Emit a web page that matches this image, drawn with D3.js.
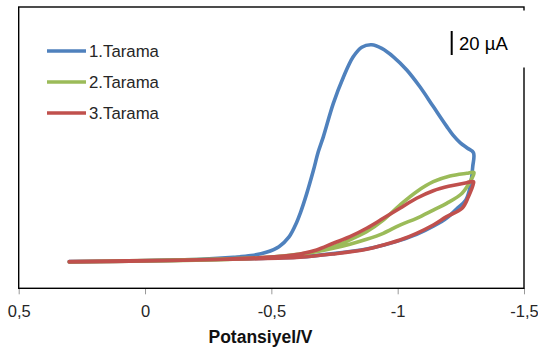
<!DOCTYPE html>
<html>
<head>
<meta charset="utf-8">
<script src="https://cdn.jsdelivr.net/npm/d3@7"></script>
<style>
  body { margin: 0; background: #fff; }
  svg { display: block; font-family: "Liberation Sans", Arial, sans-serif; }
</style>
</head>
<body>
<div id="chart"></div>
<script>
// cyclic voltammograms, potential in V, current in uA (forward sweep then return)
const scan1Potential = [0.30, 0.10, -0.10, -0.22, -0.35, -0.42, -0.48, -0.53, -0.57, -0.60, -0.615, -0.64, -0.666, -0.686, -0.706, -0.745, -0.785, -0.824, -0.858, -0.897, -0.937, -0.983, -1.036, -1.088, -1.141, -1.194, -1.22, -1.247, -1.275, -1.30,
  -1.297, -1.287, -1.27, -1.234, -1.194, -1.141, -1.075, -1.009, -0.943, -0.877, -0.745, -0.613, -0.40, -0.10, 0.30];
const scan1Current = [0, 0.8, 1.6, 2.3, 3.9, 5.3, 8.1, 12.8, 21, 33, 41, 57, 76, 92, 104.5, 132, 154, 171, 179, 181, 178, 171, 160, 146, 129.5, 113, 105.5, 99.5, 95, 91,
  79.4, 62.8, 51.7, 44.3, 36.6, 29.8, 23, 18, 14, 10.8, 7, 4.2, 2.7, 1.2, 0.3];

const scan2Potential = [0.30, 0.00, -0.30, -0.45, -0.55, -0.613, -0.679, -0.745, -0.811, -0.877, -0.943, -1.009, -1.075, -1.141, -1.207, -1.273, -1.302,
  -1.286, -1.255, -1.194, -1.141, -1.075, -1.009, -0.943, -0.877, -0.811, -0.745, -0.679, -0.613, -0.50, -0.30, 0.00, 0.30];
const scan2Current = [0, 0.8, 2.0, 3.3, 4.5, 5.8, 9, 12.8, 18.5, 25.3, 35, 47.5, 58.6, 66.9, 71.7, 73.9, 74.6,
  66.9, 57.3, 48.9, 43.3, 36.4, 30.8, 23.9, 18.9, 14.8, 11.4, 8.6, 6.7, 4.2, 2.5, 1.25, 0.25];

const scan3Potential = [0.30, 0.00, -0.30, -0.45, -0.55, -0.613, -0.679, -0.745, -0.811, -0.877, -0.943, -1.009, -1.075, -1.141, -1.207, -1.273, -1.30,
  -1.30, -1.28, -1.255, -1.194, -1.141, -1.075, -1.009, -0.943, -0.877, -0.745, -0.613, -0.40, -0.10, 0.30];
const scan3Current = [0, 0.8, 2.2, 3.6, 5, 6.7, 10, 15.6, 21.1, 28.1, 36.4, 44.8, 53.1, 59.4, 63.3, 66.1, 66.9,
  65.6, 54.4, 44.8, 37.8, 30.8, 23.9, 18.3, 14.2, 10.6, 6.7, 3.9, 2.5, 1.5, 0.4];

const seriesNames = ["1.Tarama", "2.Tarama", "3.Tarama"];
const seriesColors = ["#4F81BD", "#9BBB59", "#C0504D"];
const xTicks = [0.5, 0, -0.5, -1, -1.5];
const scaleBarValue = 20; // uA

const W = 538, H = 347;
const plot = { left: 18.7, right: 524, top: 7, bottom: 288.3 };

const svg = d3.select("#chart").append("svg")
  .attr("width", W).attr("height", H);

const x = d3.scaleLinear().domain([0.5, -1.5]).range([plot.left, plot.right]);
// 1.2 px per uA, zero current at y = 262
const y = d3.scaleLinear()
  .domain([(262 - plot.bottom) / 1.2, (262 - plot.top) / 1.2])
  .range([plot.bottom, plot.top]);

// x axis ticks (below the frame)
const xAxis = svg.append("g")
  .attr("transform", `translate(0,${plot.bottom})`)
  .call(d3.axisBottom(x).tickValues(xTicks).tickSize(6).tickPadding(11)
    .tickFormat(d => d3.format("")(d).replace(".", ",").replace("−", "-")));
xAxis.select(".domain").remove();
xAxis.selectAll(".tick line").attr("stroke", "#999").attr("stroke-width", 1);
xAxis.selectAll(".tick text").attr("fill", "#262626")
  .style("font-size", "16.5px").style("font-family", "'Liberation Sans', Arial, sans-serif");

svg.append("text")
  .attr("x", 260.5).attr("y", 342.5)
  .attr("text-anchor", "middle")
  .attr("font-weight", "bold")
  .attr("font-size", 17.5)
  .attr("fill", "#111")
  .text("Potansiyel/V");

// curves
const allSeries = [
  { p: scan1Potential, c: scan1Current },
  { p: scan2Potential, c: scan2Current },
  { p: scan3Potential, c: scan3Current }
];

const line = d3.line()
  .x(d => x(d[0]))
  .y(d => y(d[1]))
  .curve(d3.curveCatmullRom.alpha(0.5));

svg.selectAll(".cv")
  .data(allSeries)
  .enter()
  .append("path")
  .attr("class", "cv")
  .attr("fill", "none")
  .attr("stroke", (d, i) => seriesColors[i])
  .attr("stroke-width", 3.6)
  .attr("stroke-linejoin", "round")
  .attr("stroke-linecap", "round")
  .attr("d", d => line(d.p.map((v, i) => [v, d.c[i]])));

// frame
svg.append("rect")
  .attr("x", plot.left).attr("y", plot.top)
  .attr("width", plot.right - plot.left).attr("height", plot.bottom - plot.top)
  .attr("fill", "none").attr("stroke", "#000").attr("stroke-width", 1.4);

// legend
const legend = svg.append("g");
seriesNames.forEach((name, i) => {
  const ly = 51 + i * 31;
  legend.append("line")
    .attr("x1", 47).attr("x2", 86).attr("y1", ly).attr("y2", ly)
    .attr("stroke", seriesColors[i]).attr("stroke-width", 3.6);
  legend.append("text")
    .attr("x", 89).attr("y", ly + 6)
    .attr("font-size", 16.8).attr("fill", "#262626")
    .text(name);
});

// scale bar text box (white box sits over the frame)
const barTop = 31;
const barLen = y(0) - y(scaleBarValue);
svg.append("rect")
  .attr("x", 444).attr("y", 10.5).attr("width", 86).attr("height", 57)
  .attr("fill", "#fff");
svg.append("line")
  .attr("x1", 451.7).attr("x2", 451.7)
  .attr("y1", barTop).attr("y2", barTop + barLen)
  .attr("stroke", "#000").attr("stroke-width", 2);
svg.append("text")
  .attr("x", 459).attr("y", 49.5)
  .attr("font-size", 18.5).attr("fill", "#000")
  .text("20 µA");
</script>
</body>
</html>
